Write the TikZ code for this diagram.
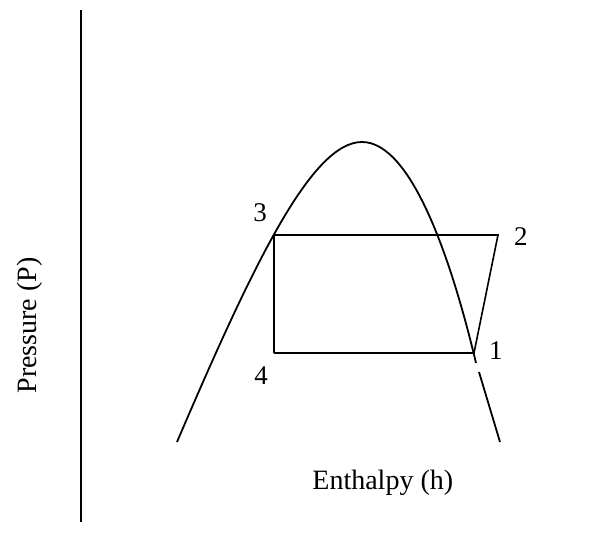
\documentclass[tikz,border=0pt]{standalone}
\usepackage{fontspec}
\setmainfont{Liberation Serif}
\usetikzlibrary{positioning}
\tikzset{
    stlbl/.style={font=\fontsize{13.5}{16}\selectfont, inner sep=0pt},
    axislbl/.style={font=\fontsize{14}{16}\selectfont, inner sep=0pt},
    domeline/.style={line width=0.9pt, draw=black},
    cycleline/.style={line width=0.8pt, draw=black},
}
\begin{document}
\begin{tikzpicture}[x=0.5pt, y=-0.5pt]
    \useasboundingbox (0,0) rectangle (602,533);
    % cycle state points
    \coordinate (p1) at (474,353);
    \coordinate (p2) at (498,235);
    \coordinate (p3) at (274,235);
    \coordinate (p4) at (274,353);
    \node[stlbl] (n1) at (496,351) {1};
    \node[stlbl] (n2) at (521,237) {2};
    \node[stlbl] (n3) at (260,213) {3};
    \node[stlbl] (n4) at (261,376) {4};
    % saturation dome
    \coordinate (domeL) at (177,442);
    \coordinate (peak) at (362,142);
    \coordinate (gapT) at (476,363);
    \coordinate (gapB) at (479,372);
    \coordinate (domeR) at (500,442);
    \draw[domeline] (domeL) .. controls (254,262) and (312,142) .. (peak);
    \draw[domeline] (peak) .. controls (412,142) and (452,262) .. (gapT);
    \draw[domeline] (gapB) -- (domeR);
    \draw[cycleline] (p4) -- (p1) -- (p2) -- (p3) -- (p4);
    % pressure axis
    \coordinate (axT) at (81,10);
    \coordinate (axB) at (81,522);
    \draw[domeline] (axT) -- (axB);
    \node[axislbl, anchor=base west] (hlbl) at (312,490) {Enthalpy (h)};
    \node[axislbl, rotate=90, anchor=base east] (plbl) at (37,257) {Pressure (P)};
\end{tikzpicture}
\end{document}
